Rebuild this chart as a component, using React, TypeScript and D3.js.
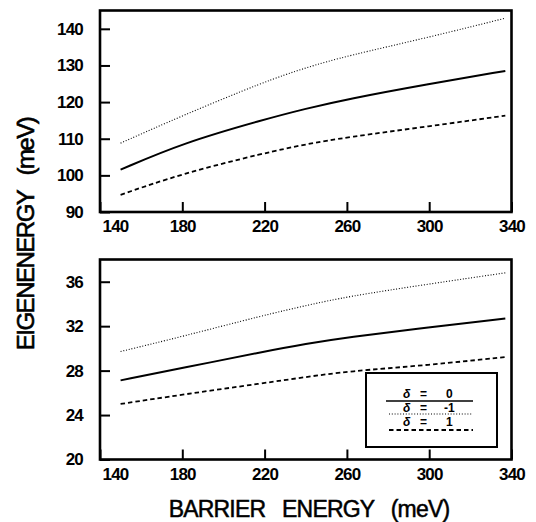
import React, { useEffect, useRef } from 'react';
import * as d3 from 'd3';

// barrier energy (meV) sample points
const barrier = [150, 180, 220, 240, 260, 300, 337];

// upper panel eigenenergies (meV)
const topSolid = [101.55, 108.8, 115.3, 118.2, 120.8, 125.0, 128.5];
const topDotted = [108.8, 116.3, 125.6, 129.4, 132.6, 137.7, 142.9];
const topDashed = [94.7, 100.5, 106.1, 108.5, 110.4, 113.4, 116.3];

// lower panel eigenenergies (meV)
const botSolid = [27.12, 28.23, 29.72, 30.4, 31.0, 31.88, 32.7];
const botDotted = [29.72, 31.07, 33.0, 33.85, 34.66, 35.8, 36.8];
const botDashed = [25.0, 25.84, 26.89, 27.42, 27.93, 28.5, 29.22];

const xTicks = [140, 180, 220, 260, 300, 340];
const topYTicks = [90, 100, 110, 120, 130, 140];
const botYTicks = [20, 24, 28, 32, 36];

const legendItems = [
  { label: '0', style: 'solid' },
  { label: '-1', style: 'dotted' },
  { label: '1', style: 'dashed' },
];

const FONT = '"Liberation Sans", Arial, Helvetica, sans-serif';

const styles: Record<string, { width: number; dash: string | null }> = {
  solid: { width: 2, dash: null },
  dotted: { width: 1.1, dash: '1,1.8' },
  dashed: { width: 1.8, dash: '4.5,3' },
};

const App = () => {
  const ref = useRef<SVGSVGElement>(null);

  useEffect(() => {
    if (!ref.current) return;
    const svg = d3.select(ref.current);
    svg.selectAll('*').remove();

    const left = 100;
    const right = 511.5;

    const x = d3.scaleLinear().domain([140, 340]).range([left, right]);

    const panels = [
      {
        top: 10.5, bottom: 212, domain: [90, 145], ticks: topYTicks,
        series: [
          { values: topSolid, style: 'solid' },
          { values: topDotted, style: 'dotted' },
          { values: topDashed, style: 'dashed' },
        ],
      },
      {
        top: 259.5, bottom: 459.5, domain: [20, 38], ticks: botYTicks,
        series: [
          { values: botSolid, style: 'solid' },
          { values: botDotted, style: 'dotted' },
          { values: botDashed, style: 'dashed' },
        ],
      },
    ];

    panels.forEach(p => {
      const y = d3.scaleLinear().domain(p.domain).range([p.bottom, p.top]);
      const g = svg.append('g');

      // y axis, ticks pointing inward
      const ya = g.append('g')
        .attr('transform', `translate(${left},0)`)
        .call(d3.axisLeft(y).tickValues(p.ticks).tickSize(-10).tickPadding(17).tickFormat(d3.format('d')));
      ya.select('.domain').remove();
      ya.selectAll('line').attr('stroke-width', 2);
      ya.selectAll('text')
        .attr('font-family', FONT).attr('font-weight', 'bold').attr('font-size', 17)
        .attr('letter-spacing', -0.8).attr('fill', '#000');

      // x axis, ticks pointing inward
      const xa = g.append('g')
        .attr('transform', `translate(0,${p.bottom})`)
        .call(d3.axisBottom(x).tickValues(xTicks).tickSize(-10).tickPadding(8).tickFormat(d3.format('d')));
      xa.select('.domain').remove();
      xa.selectAll('line').attr('stroke-width', 2);
      xa.selectAll('text')
        .attr('font-family', FONT).attr('font-weight', 'bold').attr('font-size', 17)
        .attr('letter-spacing', -0.8).attr('fill', '#000')
        .attr('x', (d: any) => (d === 140 ? 15 : 0));

      // frame
      g.append('rect')
        .attr('x', left).attr('y', p.top)
        .attr('width', right - left).attr('height', p.bottom - p.top)
        .attr('fill', 'none').attr('stroke', '#000').attr('stroke-width', 2.6);

      const line = d3.line<number>()
        .x((_, i) => x(barrier[i]))
        .y(d => y(d))
        .curve(d3.curveBasis);

      p.series.forEach(s => {
        const st = styles[s.style];
        g.append('path')
          .datum(s.values)
          .attr('fill', 'none')
          .attr('stroke', '#000')
          .attr('stroke-width', st.width)
          .attr('stroke-dasharray', st.dash)
          .attr('d', line);
      });
    });

    // legend
    const lg = svg.append('g');
    lg.append('rect')
      .attr('x', 366).attr('y', 373).attr('width', 131).attr('height', 74)
      .attr('fill', '#fff').attr('stroke', '#000').attr('stroke-width', 2);
    const baseY = [397.5, 411.5, 425.5];
    const lineY = [401, 414, 430];
    legendItems.forEach((it, i) => {
      const t = lg.append('text').attr('y', baseY[i])
        .attr('font-family', FONT).attr('font-weight', 'bold').attr('font-size', 12);
      t.append('tspan').attr('x', 403).attr('font-style', 'italic').text('δ');
      t.append('tspan').attr('x', 420).text('=');
      t.append('tspan').attr('x', it.label.length > 1 ? 444 : 446).text(it.label);
      const st = styles[it.style];
      lg.append('line')
        .attr('x1', i === 0 ? 386 : 389).attr('x2', 473)
        .attr('y1', lineY[i]).attr('y2', lineY[i])
        .attr('stroke', '#000').attr('stroke-width', st.width === 2 ? 1.6 : st.width)
        .attr('stroke-dasharray', st.dash);
    });

    // axis titles
    svg.append('text')
      .attr('x', 309).attr('y', 517).attr('text-anchor', 'middle')
      .attr('font-family', FONT).attr('font-size', 23).attr('letter-spacing', -0.8)
      .attr('stroke', '#000').attr('stroke-width', 0.5)
      .style('white-space', 'pre')
      .text('BARRIER   ENERGY   (meV)');

    svg.append('text')
      .attr('transform', 'translate(34,234) rotate(-90)')
      .attr('text-anchor', 'middle')
      .attr('font-family', FONT).attr('font-size', 24).attr('letter-spacing', -1.5)
      .attr('stroke', '#000').attr('stroke-width', 0.6)
      .style('white-space', 'pre')
      .text('EIGENENERGY   (meV)');
  }, []);

  return (
    <svg
      ref={ref}
      width={536}
      height={522}
      style={{ position: 'absolute', left: 0, top: 0, background: '#fff' }}
    />
  );
};

export default App;
